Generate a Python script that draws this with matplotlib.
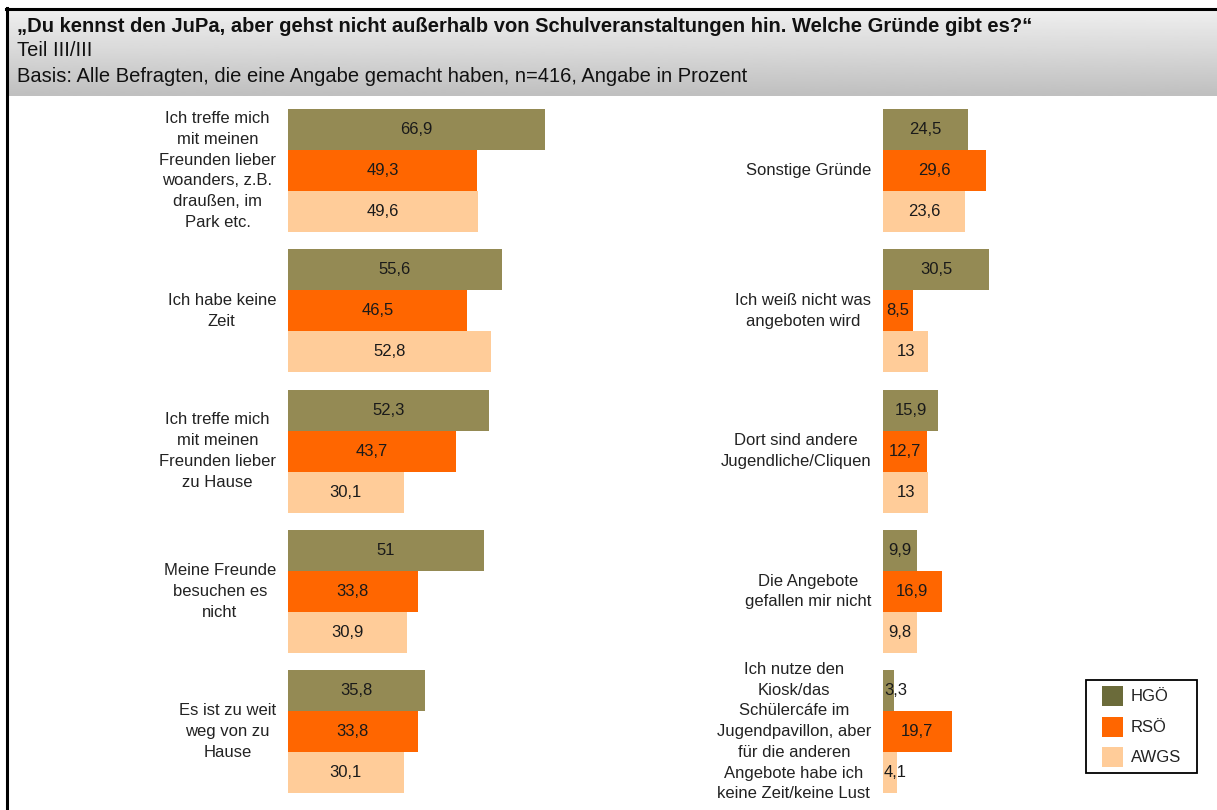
import numpy as np
import matplotlib.pyplot as plt
from matplotlib.patches import Rectangle

plt.rcParams['font.family'] = ['Liberation Sans', 'DejaVu Sans']

# survey answers, percent per school
left_labels = [
    "Ich treffe mich\nmit meinen\nFreunden lieber\nwoanders, z.B.\ndraußen, im\nPark etc.",
    "Ich habe keine\nZeit",
    "Ich treffe mich\nmit meinen\nFreunden lieber\nzu Hause",
    "Meine Freunde\nbesuchen es\nnicht",
    "Es ist zu weit\nweg von zu\nHause",
]
left_hgo = [66.9, 55.6, 52.3, 51, 35.8]
left_rso = [49.3, 46.5, 43.7, 33.8, 33.8]
left_awgs = [49.6, 52.8, 30.1, 30.9, 30.1]

right_labels = [
    "Sonstige Gründe",
    "Ich weiß nicht was\nangeboten wird",
    "Dort sind andere\nJugendliche/Cliquen",
    "Die Angebote\ngefallen mir nicht",
    "Ich nutze den\nKiosk/das\nSchülercáfe im\nJugendpavillon, aber\nfür die anderen\nAngebote habe ich\nkeine Zeit/keine Lust",
]
right_hgo = [24.5, 30.5, 15.9, 9.9, 3.3]
right_rso = [29.6, 8.5, 12.7, 16.9, 19.7]
right_awgs = [23.6, 13, 13, 9.8, 4.1]

series_names = ["HGÖ", "RSÖ", "AWGS"]
colors = ["#948A54", "#FF6600", "#FFCC99"]
legend_colors = ["#6B6B3A", "#FF6600", "#FFCC99"]

W, H = 1217, 810
fig = plt.figure(figsize=(W / 100, H / 100), dpi=100)


def px_axes(l, t, r, b, **kw):
    return fig.add_axes([l / W, 1 - b / H, (r - l) / W, (b - t) / H], **kw)


# header band with grey gradient
hdr = px_axes(7, 9, W, 96)
grad = np.linspace(0.94, 0.75, 100)[:, None]
hdr.imshow(grad, aspect="auto", cmap="gray", vmin=0, vmax=1, extent=[0, 1, 0, 1])
hdr.axis("off")
fig.text(17 / W, 1 - 27 / H,
         "„Du kennst den JuPa, aber gehst nicht außerhalb von Schulveranstaltungen hin. Welche Gründe gibt es?“",
         fontsize=14.5, fontweight="bold", va="center", ha="left", color="#111111")
fig.text(17 / W, 1 - 50 / H, "Teil III/III", fontsize=14.5, va="center", ha="left", color="#111111")
fig.text(17 / W, 1 - 77 / H, "Basis: Alle Befragten, die eine Angabe gemacht haben, n=416, Angabe in Prozent",
         fontsize=14.5, va="center", ha="left", color="#111111")

# overlay in pixel coordinates for frame and legend
frame = px_axes(0, 0, W, H)
frame.set_xlim(0, W)
frame.set_ylim(H, 0)
frame.axis("off")
frame.plot([6.5, 6.5], [8, H], color="black", lw=2.2)
frame.plot([6, W], [8.5, 8.5], color="black", lw=2.2)

pitch = 140.3
bar_h = 41 / pitch
first_center = 170.5
top_px, bot_px = 100, 805
y_top = -(first_center - top_px) / pitch
y_bot = 4 + (bot_px - (first_center + 4 * pitch)) / pitch


def draw_panel(l, px_per_unit, xmax, labels, data, label_right, min_x):
    ax = px_axes(l, top_px, l + xmax * px_per_unit, bot_px)
    ax.set_xlim(0, xmax)
    ax.set_ylim(y_bot, y_top)
    y = np.arange(len(labels))
    for k, vals in enumerate(data):
        pos = y + (k - 1) * bar_h
        ax.barh(pos, vals, height=bar_h, color=colors[k], edgecolor="none")
        for p, v in zip(pos, vals):
            txt = f"{v:g}".replace(".", ",")
            ax.text(max(v / 2, min_x), p, txt, ha="center", va="center", fontsize=12, color="#1a1a1a")
    ax.axis("off")
    # category labels: block right-aligned next to the bars, lines centred
    for yi, lab in zip(y, labels):
        fy = first_center + yi * pitch
        fig.text(label_right / W, 1 - fy / H, lab, ha="right", va="center",
                 multialignment="center", fontsize=12, linespacing=1.48, color="#222222")
    return ax


draw_panel(288, 3.84, 70, left_labels, [left_hgo, left_rso, left_awgs], 276, 3)
draw_panel(883, 3.48, 35, right_labels, [right_hgo, right_rso, right_awgs], 871, 3.6)

# legend box
frame.add_patch(Rectangle((1085.5, 680), 111.5, 93, facecolor="white", edgecolor="black", lw=1.3))
for i, (name, c) in enumerate(zip(series_names, legend_colors)):
    top = 686 + i * 30.5
    frame.add_patch(Rectangle((1102, top), 21, 20, facecolor=c, edgecolor="none"))
    frame.text(1131, top + 10.5, name, ha="left", va="center", fontsize=12, color="#222222")

fig.savefig("out.png", dpi=100)
